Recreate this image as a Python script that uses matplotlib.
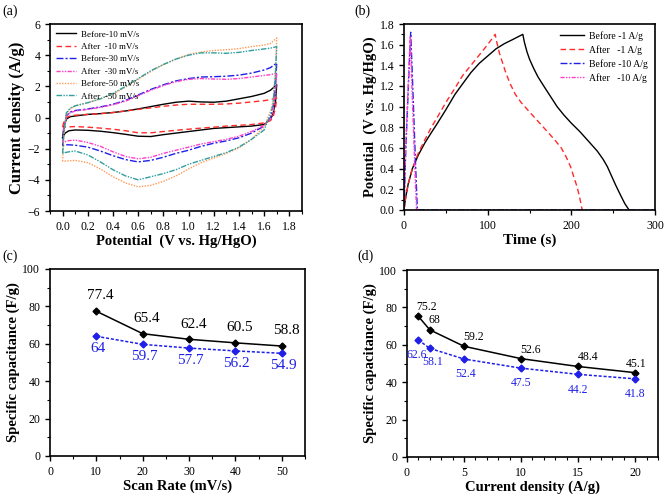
import matplotlib
matplotlib.use('Agg')
import matplotlib.pyplot as plt
from matplotlib.ticker import MultipleLocator

plt.rcParams['font.family'] = 'serif'
plt.rcParams['font.serif'] = ['Liberation Serif', 'DejaVu Serif']
plt.rcParams['axes.linewidth'] = 1.2

# --- (a) CV curves: upper (anodic) branch then lower (cathodic) branch ---
cv_v_up = [0.0, 0.01, 0.03, 0.06, 0.1, 0.2, 0.3, 0.4, 0.5, 0.6, 0.7, 0.8, 0.9,
           1.0, 1.1, 1.2, 1.3, 1.4, 1.5, 1.6, 1.65, 1.7]
cv_v_down = [1.7, 1.69, 1.67, 1.65, 1.6, 1.5, 1.4, 1.3, 1.2, 1.1, 1.0, 0.9, 0.8,
             0.7, 0.6, 0.5, 0.4, 0.3, 0.2, 0.1, 0.05, 0.02, 0.0]

before10_up = [-1.3, -0.6, -0.1, 0.05, 0.1, 0.2, 0.25, 0.32, 0.42, 0.55, 0.7, 0.85, 0.98,
               1.05, 1.0, 0.98, 1.05, 1.2, 1.35, 1.55, 1.75, 2.1]
before10_down = [2.1, 1.0, 0.2, -0.1, -0.45, -0.55, -0.6, -0.65, -0.7, -0.8, -0.9, -1.0, -1.1,
                 -1.22, -1.2, -1.08, -0.97, -0.88, -0.82, -0.8, -0.85, -1.0, -1.3]
after10_up = [-0.6, -0.3, 0.0, 0.1, 0.15, 0.2, 0.25, 0.32, 0.42, 0.52, 0.62, 0.72, 0.8,
              0.85, 0.85, 0.85, 0.87, 0.92, 1.0, 1.08, 1.15, 1.25]
after10_down = [1.25, 0.6, 0.0, -0.2, -0.35, -0.45, -0.5, -0.55, -0.62, -0.68, -0.75, -0.82, -0.9,
                -0.98, -0.98, -0.85, -0.75, -0.68, -0.62, -0.58, -0.6, -0.62, -0.6]
before30_up = [-1.8, -0.8, 0.1, 0.35, 0.45, 0.55, 0.68, 0.85, 1.1, 1.45, 1.8, 2.1, 2.35,
               2.5, 2.6, 2.62, 2.65, 2.72, 2.85, 3.05, 3.2, 3.5]
before30_down = [3.5, 2.0, 0.5, 0.0, -0.55, -1.0, -1.3, -1.5, -1.65, -1.85, -2.1, -2.3, -2.55,
                 -2.75, -2.85, -2.7, -2.45, -2.15, -1.9, -1.78, -1.75, -1.75, -1.8]
after30_up = [-1.6, -0.7, 0.1, 0.3, 0.42, 0.52, 0.65, 0.82, 1.05, 1.4, 1.75, 2.05, 2.3,
              2.45, 2.5, 2.47, 2.45, 2.5, 2.6, 2.7, 2.75, 2.85]
after30_down = [2.85, 1.5, 0.3, -0.1, -0.5, -0.9, -1.2, -1.4, -1.55, -1.7, -1.9, -2.1, -2.3,
                -2.55, -2.65, -2.5, -2.2, -1.85, -1.6, -1.45, -1.48, -1.55, -1.6]
before50_up = [-2.8, -1.2, 0.2, 0.55, 0.75, 0.95, 1.2, 1.5, 1.95, 2.45, 2.95, 3.4, 3.75,
               4.05, 4.2, 4.3, 4.35, 4.42, 4.55, 4.65, 4.75, 5.1]
before50_down = [5.1, 3.0, 1.0, 0.4, -0.6, -1.4, -1.95, -2.3, -2.6, -2.9, -3.3, -3.75, -4.1,
                 -4.35, -4.45, -4.2, -3.8, -3.3, -2.9, -2.75, -2.78, -2.8, -2.8]
after50_up = [-2.3, -1.0, 0.3, 0.6, 0.75, 0.95, 1.2, 1.55, 2.0, 2.5, 3.0, 3.4, 3.75,
              4.0, 4.15, 4.15, 4.12, 4.18, 4.3, 4.4, 4.45, 4.55]
after50_down = [4.55, 2.8, 0.8, 0.2, -0.8, -1.4, -1.9, -2.25, -2.5, -2.75, -3.0, -3.35, -3.6,
                -3.8, -4.0, -3.75, -3.35, -2.85, -2.4, -2.15, -2.2, -2.25, -2.3]

cv_labels = ['Before-10 mV/s', 'After  -10 mV/s', 'Before-30 mV/s',
             'After  -30 mV/s', 'Before-50 mV/s', 'After  -50 mV/s']

# --- (b) GCD curves ---
gcd_before1_t = [0, 2, 5, 10, 17, 25, 32, 40, 50, 61, 70, 80, 90, 100, 110, 120, 130, 142,
                 144, 147, 150, 155, 160, 167, 175, 183, 191, 200, 210, 220, 231, 238,
                 243, 248, 253, 259, 264, 269]
gcd_before1_v = [0, 0.12, 0.25, 0.4, 0.53, 0.65, 0.74, 0.84, 0.97, 1.12, 1.22, 1.33, 1.42,
                 1.49, 1.56, 1.61, 1.65, 1.7,
                 1.62, 1.53, 1.46, 1.37, 1.29, 1.2, 1.1, 1.0, 0.92, 0.84, 0.76, 0.67, 0.57,
                 0.49, 0.42, 0.33, 0.24, 0.14, 0.06, 0.0]
gcd_after1_t = [0, 2, 5, 10, 17, 25, 32, 40, 50, 61, 70, 80, 90, 100, 109,
                111, 114, 118, 122, 127, 133, 140, 151, 160, 170, 180, 188, 194, 199,
                203, 207, 210, 213]
gcd_after1_v = [0, 0.12, 0.25, 0.4, 0.55, 0.68, 0.79, 0.9, 1.04, 1.18, 1.3, 1.4, 1.5, 1.6, 1.7,
                1.62, 1.52, 1.42, 1.32, 1.22, 1.12, 1.04, 0.94, 0.86, 0.77, 0.68, 0.6, 0.51,
                0.42, 0.32, 0.22, 0.12, 0.0]
gcd_before10_t = [0, 2, 4, 6, 8, 10, 12, 14, 16, 300]
gcd_before10_v = [0, 0.55, 0.95, 1.35, 1.72, 1.3, 0.85, 0.4, 0.0, 0.0]
gcd_after10_t = [0, 2, 4, 6, 7.5, 9, 11, 13, 15]
gcd_after10_v = [0, 0.6, 1.0, 1.4, 1.68, 1.3, 0.85, 0.4, 0.0]
gcd_labels = ['Before -1 A/g', 'After   -1 A/g', 'Before -10 A/g', 'After   -10 A/g']

# --- (c) capacitance vs scan rate ---
scan_rate = [10, 20, 30, 40, 50]
cap_scan_before = [77.4, 65.4, 62.4, 60.5, 58.8]
cap_scan_after = [64, 59.7, 57.7, 56.2, 54.9]

# --- (d) capacitance vs current density ---
current_density = [1, 2, 5, 10, 15, 20]
cap_cd_before = [75.2, 68, 59.2, 52.6, 48.4, 45.1]
cap_cd_after = [62.6, 58.1, 52.4, 47.5, 44.2, 41.8]

BLUE = '#1f1fe8'

fig = plt.figure(figsize=(6.65, 4.95), dpi=100)
ax_a = fig.add_axes([0.0752, 0.5737, 0.3788, 0.3778])
ax_b = fig.add_axes([0.6075, 0.5758, 0.3775, 0.3757])
ax_c = fig.add_axes([0.0752, 0.0788, 0.3834, 0.3778])
ax_d = fig.add_axes([0.6120, 0.0768, 0.3775, 0.3777])


def style_axis(ax, xmaj, xmin, ymaj, ymin):
    ax.xaxis.set_major_locator(MultipleLocator(xmaj))
    ax.xaxis.set_minor_locator(MultipleLocator(xmin))
    ax.yaxis.set_major_locator(MultipleLocator(ymaj))
    ax.yaxis.set_minor_locator(MultipleLocator(ymin))
    ax.tick_params(which='major', direction='out', length=3.5, width=1.0, labelsize=8.5,
                   top=False, right=False)
    ax.tick_params(which='minor', direction='out', length=2, width=0.8,
                   top=False, right=False)


# (a)
cv_series = [
    (before10_up, before10_down, 'black', '-'),
    (after10_up, after10_down, '#ff2a2a', (0, (4, 2.5))),
    (before30_up, before30_down, BLUE, (0, (5, 1.5, 1.5, 1.5))),
    (after30_up, after30_down, '#ff3fc8', (0, (3, 1, 1, 1, 1, 1))),
    (before50_up, before50_down, '#ff9a55', (0, (1, 1))),
    (after50_up, after50_down, '#2f9f9f', (0, (4, 1, 1, 1, 1, 1))),
]
for (up, down, col, ls), lab in zip(cv_series, cv_labels):
    ax_a.plot(cv_v_up + cv_v_down, up + down, color=col, linestyle=ls, linewidth=1.0, label=lab)
ax_a.set_xlim(-0.1, 1.9)
ax_a.set_ylim(-6, 6)
style_axis(ax_a, 0.2, 0.1, 2, 1)
ax_a.set_xticks([0.0, 0.2, 0.4, 0.6, 0.8, 1.0, 1.2, 1.4, 1.6, 1.8])
ax_a.set_xticklabels(['0.0', '0.2', '0.4', '0.6', '0.8', '1.0', '1.2', '1.4', '1.6', '1.8'])
ax_a.set_xlabel('Potential  (V vs. Hg/HgO)', fontsize=10.5, fontweight='bold', labelpad=1)
ax_a.set_ylabel('Current density (A/g)', fontsize=12, fontweight='bold', labelpad=2)
ax_a.legend(loc='upper left', frameon=False, fontsize=6.5, handlelength=2.2,
            handletextpad=0.5, labelspacing=0.45, borderaxespad=0.3)

# (b)
ax_b.plot(gcd_before1_t, gcd_before1_v, color='black', linewidth=1.0, label=gcd_labels[0])
ax_b.plot(gcd_after1_t, gcd_after1_v, color='#ff2a2a', linestyle=(0, (4, 2.5)),
          linewidth=1.0, label=gcd_labels[1])
ax_b.plot(gcd_before10_t, gcd_before10_v, color=BLUE, linestyle=(0, (5, 1.5, 1.5, 1.5)),
          linewidth=1.0, label=gcd_labels[2])
ax_b.plot(gcd_after10_t, gcd_after10_v, color='#ff3fc8', linestyle=(0, (3, 1, 1, 1, 1, 1)),
          linewidth=1.0, label=gcd_labels[3])
ax_b.set_xlim(0, 300)
ax_b.set_ylim(0, 1.8)
style_axis(ax_b, 100, 50, 0.2, 0.1)
ax_b.set_yticks([0.0, 0.2, 0.4, 0.6, 0.8, 1.0, 1.2, 1.4, 1.6, 1.8])
ax_b.set_yticklabels(['0.0', '0.2', '0.4', '0.6', '0.8', '1.0', '1.2', '1.4', '1.6', '1.8'])
ax_b.set_xlabel('Time (s)', fontsize=11, fontweight='bold', labelpad=1)
ax_b.set_ylabel('Potential  (V vs. Hg/HgO)', fontsize=10.5, fontweight='bold', labelpad=2)
ax_b.legend(loc='upper right', frameon=False, fontsize=7, handlelength=2.4,
            handletextpad=0.6, labelspacing=0.45, borderaxespad=0.3)

# (c)
ax_c.plot(scan_rate, cap_scan_before, color='black', linewidth=1.1, marker='D', markersize=3.5)
ax_c.plot(scan_rate, cap_scan_after, color=BLUE, linewidth=1.1, linestyle=(0, (2, 1.2)),
          marker='D', markersize=3.5)
for x, y in zip(scan_rate, cap_scan_before):
    ax_c.annotate(f'{y:g}', (x, y), xytext=(3, 11), textcoords='offset points',
                  ha='center', va='center', fontsize=11, color='black')
for x, y in zip(scan_rate, cap_scan_after):
    ax_c.annotate(f'{y:g}', (x, y), xytext=(1, -9), textcoords='offset points',
                  ha='center', va='center', fontsize=11, color=BLUE)
ax_c.set_xlim(0, 55)
ax_c.set_ylim(0, 100)
style_axis(ax_c, 10, 5, 20, 10)
ax_c.set_xlabel('Scan Rate (mV/s)', fontsize=10.5, fontweight='bold', labelpad=1)
ax_c.set_ylabel('Specific capacitance (F/g)', fontsize=10.5, fontweight='bold', labelpad=2)

# (d)
cd_before_off = [(6, 7), (3, 7), (7, 6.5), (7, 6), (7, 7), (1, 6)]
cd_after_off = [(-1, -11), (2, -10), (1, -11), (0, -11), (0, -11), (0, -11)]
ax_d.plot(current_density, cap_cd_before, color='black', linewidth=1.1, marker='D', markersize=3.5)
ax_d.plot(current_density, cap_cd_after, color=BLUE, linewidth=1.1, linestyle=(0, (2, 1.2)),
          marker='D', markersize=3.5)
for (x, y), off in zip(zip(current_density, cap_cd_before), cd_before_off):
    ax_d.annotate(f'{y:g}', (x, y), xytext=off, textcoords='offset points',
                  ha='center', va='center', fontsize=8.5, color='black')
for (x, y), off in zip(zip(current_density, cap_cd_after), cd_after_off):
    ax_d.annotate(f'{y:g}', (x, y), xytext=off, textcoords='offset points',
                  ha='center', va='center', fontsize=8.5, color=BLUE)
ax_d.set_xlim(0, 22)
ax_d.set_ylim(0, 100)
style_axis(ax_d, 5, 1, 20, 10)
ax_d.set_xlabel('Current density (A/g)', fontsize=10.5, fontweight='bold', labelpad=1)
ax_d.set_ylabel('Specific capacitance (F/g)', fontsize=10.5, fontweight='bold', labelpad=2)

fig.text(0.003, 0.978, '(a)', fontsize=10, va='center', ha='left')
fig.text(0.533, 0.978, '(b)', fontsize=10, va='center', ha='left')
fig.text(0.003, 0.483, '(c)', fontsize=10, va='center', ha='left')
fig.text(0.538, 0.483, '(d)', fontsize=10, va='center', ha='left')

fig.savefig('out.png', dpi=100)
